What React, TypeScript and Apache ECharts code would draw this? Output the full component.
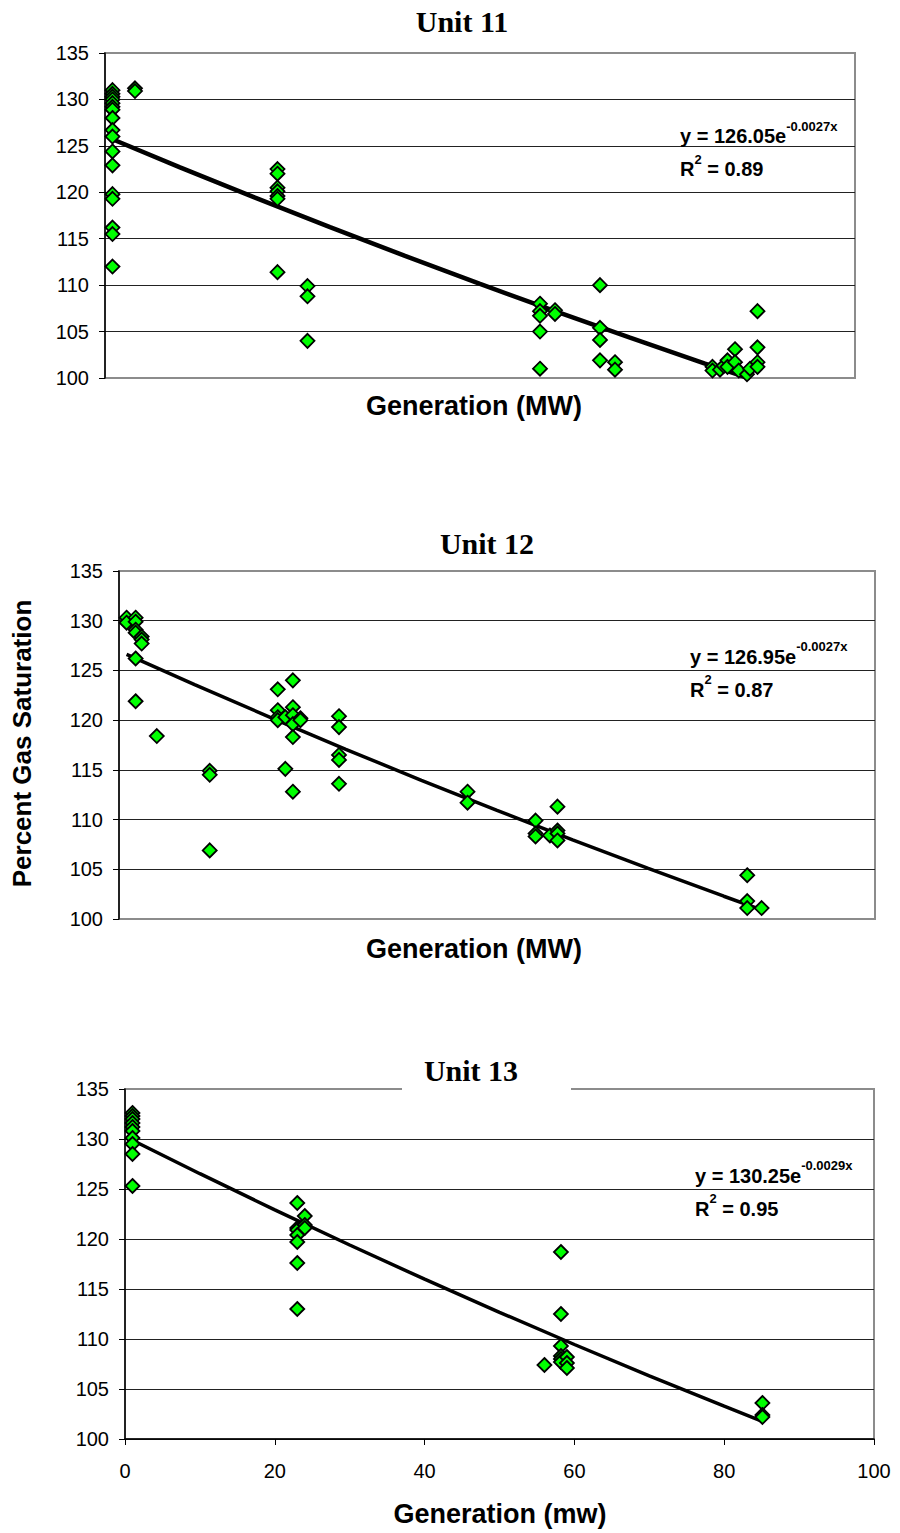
import React, { useEffect, useRef } from "react";
import * as echarts from "echarts";

// ---------- data ----------
const yTicks = [100, 105, 110, 115, 120, 125, 130, 135];
const xTicks = [0, 20, 40, 60, 80, 100];

const unit11X = [
  1, 1, 1, 1, 1, 1, 1, 1, 1, 1, 1, 1, 1, 1, 1, 1, 1,
  4, 4,
  23, 23, 23, 23, 23, 23, 23,
  27, 27, 27,
  58, 58, 58, 58, 58,
  60, 60,
  66, 66, 66, 66,
  68, 68,
  81, 81, 82, 82.5, 83, 83, 84, 84, 84.5, 85.6, 86, 87, 87, 87, 87,
];
const unit11Y = [
  131.0, 130.6, 130.3, 130.0, 129.6, 129.2, 128.9, 128.0, 126.7, 126.0, 124.4, 122.9, 119.8, 119.3, 116.2, 115.5, 112.0,
  131.2, 130.9,
  122.5, 122.0, 120.5, 120.1, 119.6, 119.3, 111.4,
  109.9, 108.8, 104.0,
  108.0, 107.2, 106.7, 105.0, 101.0,
  107.3, 106.9,
  110.0, 105.4, 104.1, 101.9,
  101.7, 100.9,
  101.2, 100.8, 100.9, 101.3, 101.9, 101.2, 103.1, 101.7, 100.8, 100.4, 101.0, 107.2, 103.3, 101.7, 101.2,
];

const unit12X = [
  1, 1,
  2.2, 2.2, 2.2, 2.2, 2.2, 2.2,
  3, 3, 3,
  5,
  12, 12, 12,
  21, 21, 21, 21,
  22, 22,
  23, 23, 23, 23, 23, 23,
  24, 24,
  29.1, 29.1, 29.1, 29.1, 29.1,
  46.1, 46.1,
  55.1, 55.1, 55.1,
  57,
  58, 58, 58, 58,
  83.1, 83.1, 83.1,
  85,
];
const unit12Y = [
  130.3, 129.8,
  130.3, 129.9, 129.1, 128.8, 126.2, 121.9,
  128.4, 128.1, 127.7,
  118.4,
  114.9, 114.5, 106.9,
  123.1, 121.0, 120.3, 120.0,
  120.3, 115.1,
  124.0, 121.3, 120.5, 119.6, 118.3, 112.8,
  120.2, 120.0,
  120.4, 119.3, 116.5, 116.0, 113.6,
  112.8, 111.7,
  109.9, 108.6, 108.3,
  108.4,
  111.3, 108.9, 108.6, 107.9,
  104.4, 101.8, 101.1,
  101.1,
];

const unit13X = [
  1, 1, 1, 1, 1, 1, 1, 1, 1, 1,
  23, 23, 23, 23, 23, 23, 23,
  24, 24, 24,
  56,
  58.2, 58.2, 58.2, 58.2, 58.2, 58.2,
  59, 59, 59,
  85.1, 85.1, 85.1,
];
const unit13Y = [
  132.6, 132.3, 132.0, 131.6, 131.2, 130.8, 130.1, 129.5, 128.5, 125.3,
  123.6, 121.1, 120.9, 120.4, 119.7, 117.6, 113.0,
  122.3, 121.4, 121.1,
  107.4,
  118.7, 112.5, 109.3, 108.3, 108.0, 107.7,
  108.2, 107.6, 107.1,
  103.6, 102.4, 102.2,
];

// trend lines
const trend11X = [1, 10, 20, 30, 40, 50, 60, 70, 80, 86];
const trend11Y = [125.71, 122.69, 119.42, 116.24, 113.15, 110.13, 107.2, 104.34, 101.56, 99.94];
const trend12X = [1, 10, 20, 30, 40, 50, 60, 70, 80, 85];
const trend12Y = [126.61, 123.57, 120.28, 117.07, 113.95, 110.92, 107.96, 105.09, 102.29, 100.91];
const trend13X = [1, 10, 20, 30, 40, 50, 60, 70, 80, 85];
const trend13Y = [129.87, 126.53, 122.91, 119.4, 115.98, 112.67, 109.45, 106.32, 103.28, 101.79];

const titles = ["Unit 11", "Unit 12", "Unit 13"];
const eqCoef = ["126.05", "126.95", "130.25"];
const eqExp = ["-0.0027x", "-0.0027x", "-0.0029x"];
const eqR2 = ["0.89", "0.87", "0.95"];
const xNames = ["Generation (MW)", "Generation (MW)", "Generation (mw)"];
const yName = "Percent Gas Saturation";

const zip = (xs: number[], ys: number[]) => xs.map((x, i) => [x, ys[i]]);

const SANS = '"Liberation Sans", Arial, sans-serif';
const SERIF = '"Liberation Serif", "Times New Roman", serif';

export default function App() {
  const ref = useRef<HTMLDivElement>(null);

  useEffect(() => {
    if (!ref.current) return;
    const chart = echarts.init(ref.current, undefined, { renderer: "svg" });

    const grids = [
      { left: 105, top: 53, width: 750, height: 325 },
      { left: 119, top: 571, width: 756, height: 348 },
      { left: 125, top: 1089, width: 749, height: 350 },
    ];
    const titlePos = [
      [462, 21],
      [487, 543],
      [471, 1070],
    ];
    const xNamePos = [
      [474, 406],
      [474, 949],
      [500, 1514],
    ];
    const eqPos = [
      [680, 119.5],
      [690, 640],
      [695, 1159],
    ];
    const scatterData = [zip(unit11X, unit11Y), zip(unit12X, unit12Y), zip(unit13X, unit13Y)];
    const trendData = [zip(trend11X, trend11Y), zip(trend12X, trend12Y), zip(trend13X, trend13Y)];
    const trendWidth = [4.5, 3.5, 3.5];

    const graphic: any[] = [];
    // white box behind Unit 13 title
    graphic.push({
      type: "rect",
      shape: { x: 402, y: 1050, width: 169, height: 42 },
      style: { fill: "#ffffff" },
      z: 100,
    });
    titles.forEach((t, i) => {
      graphic.push({
        type: "text",
        x: titlePos[i][0],
        y: titlePos[i][1],
        z: 101,
        style: {
          text: t,
          font: `bold 30px ${SERIF}`,
          fill: "#000",
          align: "center",
          verticalAlign: "middle",
          textAlign: "center",
          textVerticalAlign: "middle",
        },
      });
      graphic.push({
        type: "text",
        x: xNamePos[i][0],
        y: xNamePos[i][1],
        z: 101,
        style: {
          text: xNames[i],
          font: `bold 27px ${SANS}`,
          fill: "#000",
          align: "center",
          verticalAlign: "middle",
          textAlign: "center",
          textVerticalAlign: "middle",
        },
      });
      graphic.push({
        type: "text",
        x: eqPos[i][0],
        y: eqPos[i][1],
        z: 101,
        style: {
          text: `{m|y = ${eqCoef[i]}e}{s|${eqExp[i]}}\n{m|R}{s|2}{m| = ${eqR2[i]}}`,
          fill: "#000",
          align: "left",
          verticalAlign: "top",
          textAlign: "left",
          textVerticalAlign: "top",
          rich: {
            m: {
              fontSize: 20,
              fontWeight: "bold",
              fontFamily: SANS,
              lineHeight: 33,
              verticalAlign: "middle",
              fill: "#000",
            },
            s: {
              fontSize: 13,
              fontWeight: "bold",
              fontFamily: SANS,
              lineHeight: 18,
              verticalAlign: "top",
              fill: "#000",
            },
          },
        },
      });
    });
    graphic.push({
      type: "text",
      x: 22,
      y: 743.5,
      rotation: Math.PI / 2,
      z: 101,
      style: {
        text: yName,
        font: `bold 26px ${SANS}`,
        fill: "#000",
        align: "center",
        verticalAlign: "middle",
        textAlign: "center",
        textVerticalAlign: "middle",
      },
    });

    const option: any = {
      animation: false,
      backgroundColor: "#ffffff",
      grid: grids.map((g) => ({
        ...g,
        show: true,
        borderColor: "#8c8c8c",
        borderWidth: 2,
        backgroundColor: "transparent",
        containLabel: false,
      })),
      xAxis: grids.map((_, i) => ({
        type: "value",
        gridIndex: i,
        min: xTicks[0],
        max: xTicks[xTicks.length - 1],
        interval: 20,
        axisLine: { show: i === 2, lineStyle: { color: "#000", width: 1.5 } },
        axisTick: { show: i === 2, inside: false, length: 6, lineStyle: { color: "#000", width: 1 } },
        axisLabel: {
          show: i === 2,
          fontSize: 20,
          color: "#000",
          fontFamily: SANS,
          margin: 22,
        },
        splitLine: { show: false },
      })),
      yAxis: grids.map((_, i) => ({
        type: "value",
        gridIndex: i,
        min: yTicks[0],
        max: yTicks[yTicks.length - 1],
        interval: 5,
        axisLine: { show: true, lineStyle: { color: "#000", width: 1.5 } },
        axisTick: { show: true, inside: false, length: 6, lineStyle: { color: "#000", width: 1 } },
        axisLabel: {
          fontSize: 20,
          color: "#000",
          fontFamily: SANS,
          margin: 16,
        },
        splitLine: {
          show: true,
          showMinLine: i === 2 ? true : false,
          showMaxLine: false,
          lineStyle: { color: "#222", width: 1 },
        },
      })),
      series: [
        ...trendData.map((d, i) => ({
          type: "line",
          xAxisIndex: i,
          yAxisIndex: i,
          data: d,
          showSymbol: false,
          symbol: "none",
          lineStyle: { color: "#000", width: trendWidth[i] },
          z: 2,
        })),
        ...scatterData.map((d, i) => ({
          type: "scatter",
          xAxisIndex: i,
          yAxisIndex: i,
          data: d,
          symbol: "diamond",
          symbolSize: 14,
          itemStyle: { color: "#00ff00", borderColor: "#000", borderWidth: 1.8, opacity: 1 },
          z: 3,
        })),
      ],
      graphic,
    };

    chart.setOption(option);
    return () => {
      chart.dispose();
    };
  }, []);

  return (
    <div
      ref={ref}
      style={{ position: "absolute", left: 0, top: 0, width: 900, height: 1533, background: "#fff" }}
    />
  );
}
